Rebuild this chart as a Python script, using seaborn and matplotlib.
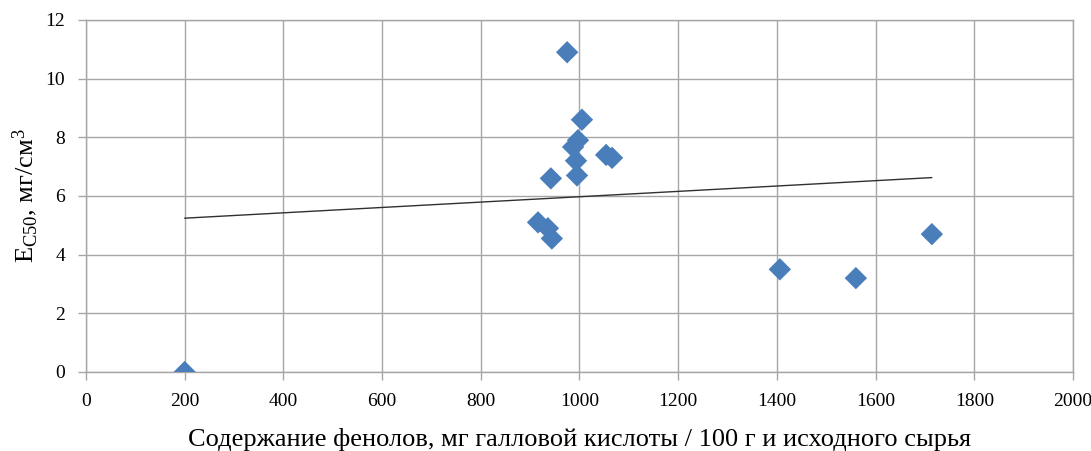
import matplotlib
matplotlib.use("Agg")
import matplotlib.pyplot as plt
import seaborn as sns
import pandas as pd

phenols = [200, 975, 1005, 997, 987, 993, 995, 942, 1054, 1066, 916, 936, 944, 1406, 1560, 1714]
ec50 = [0.0, 10.9, 8.6, 7.9, 7.67, 7.2, 6.7, 6.6, 7.4, 7.3, 5.1, 4.9, 4.55, 3.5, 3.2, 4.7]
x_ticks = list(range(0, 2001, 200))
y_ticks = list(range(0, 13, 2))

df = pd.DataFrame({"x": phenols, "y": ec50})

sns.set_style("white")
plt.rcParams["font.family"] = ["Liberation Serif", "DejaVu Serif"]
plt.rcParams["mathtext.fontset"] = "custom"
plt.rcParams["mathtext.rm"] = "Liberation Serif"
plt.rcParams["mathtext.it"] = "Liberation Serif:italic"
plt.rcParams["text.color"] = "black"
plt.rcParams["axes.labelcolor"] = "black"

fig = plt.figure(figsize=(10.91, 4.51), dpi=100)
ax = fig.add_axes([0.0788, 0.1752, 0.9047, 0.7805])

sns.regplot(data=df, x="x", y="y", ax=ax, ci=None, truncate=True, marker="D",
            scatter_kws=dict(s=130, color="#4A7EBB", edgecolors="none", alpha=1, zorder=3),
            line_kws=dict(color="#303030", linewidth=1.0, zorder=2))

ax.set_xlim(0, 2000)
ax.set_ylim(0, 12)
ax.set_xticks(x_ticks)
ax.set_yticks(y_ticks)
ax.grid(True, color="#A6A6A6", linewidth=1.0)
ax.set_axisbelow(True)
for s in ax.spines.values():
    s.set_color("#A6A6A6")
    s.set_linewidth(1.0)
ax.tick_params(axis="both", which="both", length=6, width=1, color="#A6A6A6",
               labelsize=14, labelcolor="black", direction="out", bottom=True, left=True)
ax.tick_params(axis="x", pad=9)
ax.tick_params(axis="y", pad=9)
ax.set_xlabel("Содержание фенолов, мг галловой кислоты / 100 г и исходного сырья",
              fontsize=19, labelpad=13)
ax.set_ylabel("E$_{\\mathrm{C50}}$, мг/см$^{3}$", fontsize=19, labelpad=4)

fig.savefig("out.png", dpi=100)
